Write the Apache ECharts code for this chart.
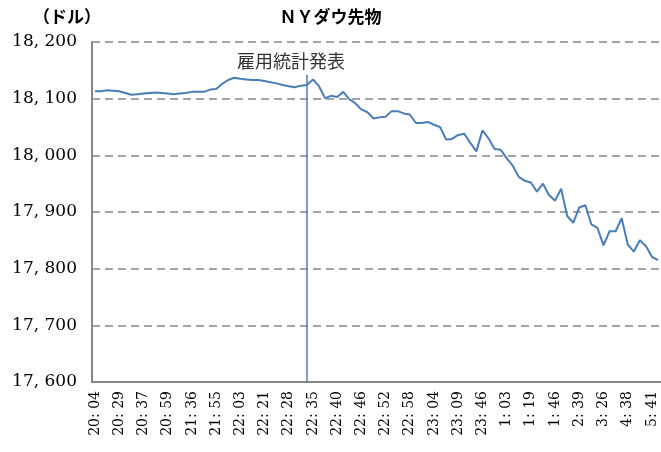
<!DOCTYPE html>
<html>
<head>
<meta charset="utf-8">
<title>NYダウ先物</title>
<script src="https://cdn.jsdelivr.net/npm/echarts@6/dist/echarts.min.js"></script>
<style>
	html, body { margin: 0; padding: 0; background: #fff; }
	#container { width: 661px; height: 452px; }
</style>
</head>
<body>
<div id="container"></div>
<script>
	/*横軸の目盛ラベル（4本ごとに表示）*/
	var tickLabels = ['20:04', '20:29', '20:37', '20:59', '21:36', '21:55', '22:03', '22:21',
		'22:28', '22:35', '22:40', '22:46', '22:52', '22:58', '23:04', '23:09',
		'23:46', '1:03', '1:19', '1:46', '2:39', '3:26', '4:38', '5:41'];
	var tickStep = 4;

	/*NYダウ先物（ドル）*/
	var prices = [
		18113, 18113, 18115, 18114, 18113, 18110, 18107, 18108, 18109, 18110,
		18111, 18110, 18109, 18108, 18109, 18110, 18112, 18112, 18112, 18116,
		18117, 18126, 18133, 18137, 18135, 18134, 18133, 18133, 18131, 18129,
		18127, 18124, 18122, 18120, 18123, 18124, 18134, 18122, 18101, 18105,
		18103, 18112, 18099, 18092, 18081, 18076, 18065, 18067, 18068, 18078,
		18078, 18074, 18072, 18057, 18057, 18059, 18054, 18050, 18028, 18029,
		18036, 18038, 18022, 18007, 18044, 18030, 18011, 18010, 17995, 17982,
		17962, 17955, 17952, 17936, 17950, 17930, 17920, 17941, 17893, 17881,
		17908, 17912, 17878, 17872, 17841, 17866, 17866, 17889, 17843, 17830,
		17850, 17840, 17821, 17815
	];

	/*雇用統計発表の位置*/
	var eventIndex = 35;
	var eventTop = 18142;
	var eventText = '雇用統計発表';

	var yMin = 17600;
	var yMax = 18200;
	var yStep = 100;

	/*カテゴリ生成*/
	var categories = [];
	for (var i = 0; i < prices.length; i++) {
		if (i % tickStep == 0 && tickLabels[i / tickStep]) {
			categories.push(tickLabels[i / tickStep]);
		} else {
			categories.push('');
		}
	}

	function fmtNum(v) {
		var s = String(v);
		return s.slice(0, s.length - 3) + ', ' + s.slice(s.length - 3);
	}

	var echart = echarts.init(document.getElementById('container'));
	var option = {
		animation: false,
		title: [{
			text: 'ＮＹダウ先物',
			left: 'center',
			top: 3,
			textStyle: {
				fontFamily: 'Noto Sans CJK JP',
				fontWeight: 'bold',
				fontSize: 17,
				color: '#000'
			}
		}, {
			text: '（ドル）',
			left: 28,
			top: 3,
			textStyle: {
				fontFamily: 'Noto Sans CJK JP',
				fontWeight: 'bold',
				fontSize: 17,
				color: '#000'
			}
		}],
		grid: {
			left: 92,
			right: 0,
			top: 42,
			bottom: 70
		},
		xAxis: {
			type: 'category',
			boundaryGap: true,
			data: categories,
			axisLine: {
				lineStyle: { color: '#868686', width: 2 }
			},
			axisTick: { show: false },
			axisLabel: {
				interval: tickStep - 1,
				rotate: 90,
				margin: 9,
				fontFamily: 'DejaVu Serif',
				fontSize: 14,
				color: '#000',
				formatter: function(v) {
					return v.replace(':', ': ');
				}
			}
		},
		yAxis: {
			type: 'value',
			min: yMin,
			max: yMax,
			interval: yStep,
			axisLine: {
				show: true,
				lineStyle: { color: '#868686', width: 2 }
			},
			axisTick: { show: false },
			axisLabel: {
				margin: 15,
				fontFamily: 'DejaVu Serif',
				fontSize: 17,
				color: '#000',
				formatter: fmtNum
			},
			splitLine: {
				lineStyle: {
					color: '#868686',
					width: 1.5,
					type: [8, 5]
				}
			}
		},
		series: [{
			name: 'NYダウ先物',
			type: 'line',
			data: prices,
			symbol: 'none',
			lineStyle: { color: '#4A7EBB', width: 2 },
			markLine: {
				silent: true,
				symbol: ['none', 'none'],
				lineStyle: { color: '#4A7EBB', width: 1.5, type: 'solid' },
				label: {
					show: true,
					position: 'end',
					formatter: eventText,
					fontFamily: 'Noto Sans CJK JP',
					fontSize: 18,
					color: '#333',
					offset: [-16, 0]
				},
				data: [
					[{ coord: [eventIndex, yMin] }, { coord: [eventIndex, eventTop] }]
				]
			}
		}]
	};
	echart.setOption(option);
</script>
</body>
</html>
